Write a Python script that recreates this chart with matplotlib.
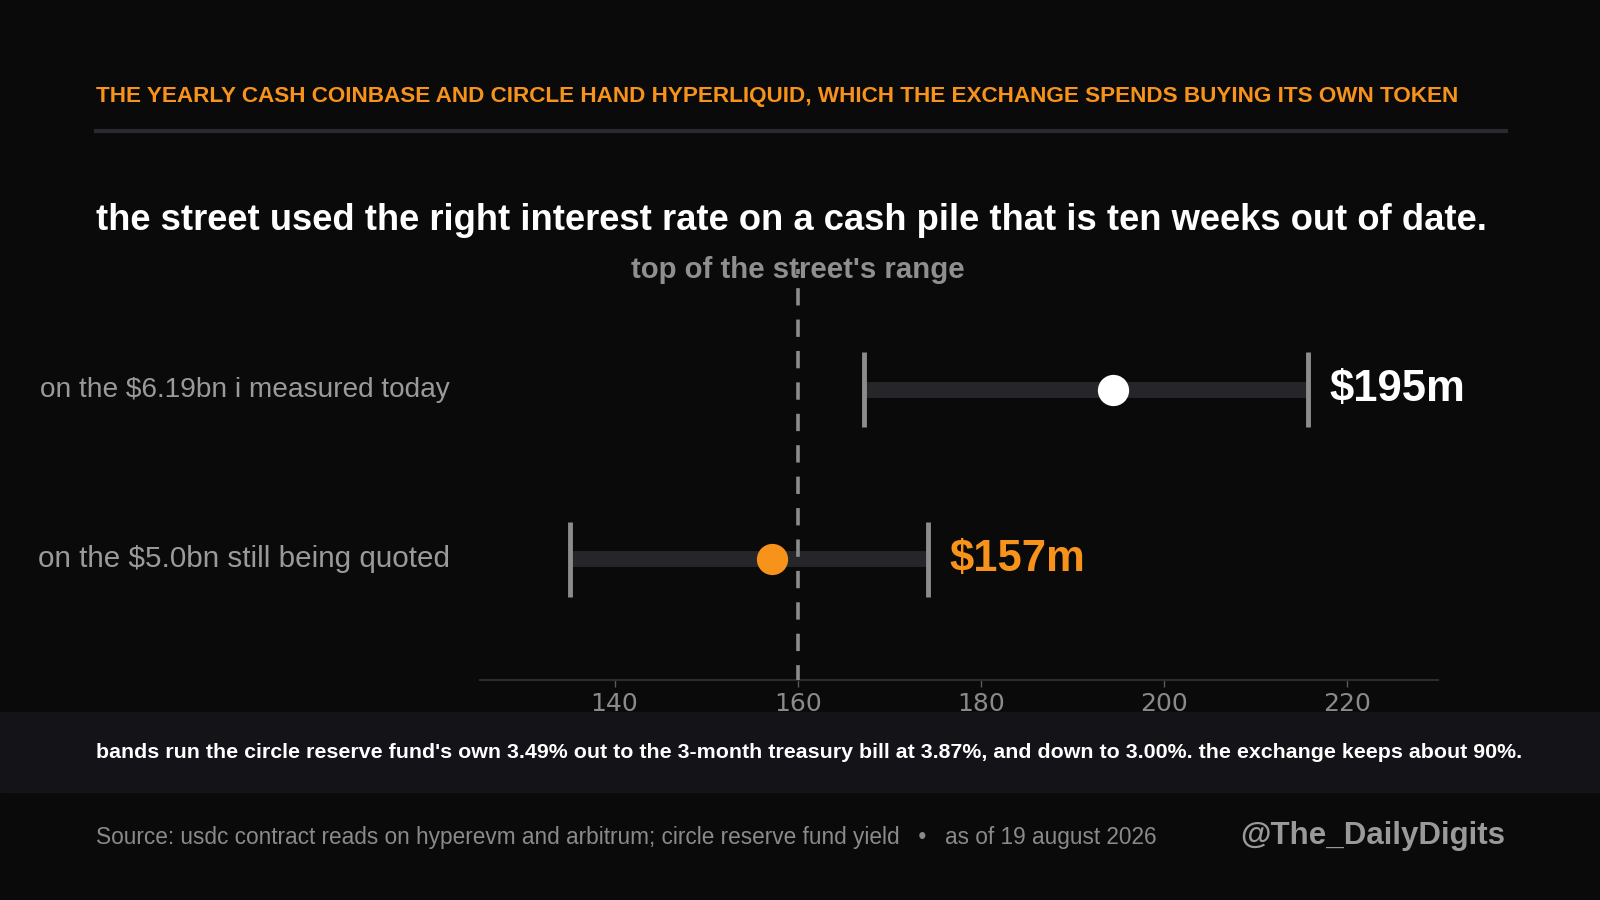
import matplotlib
matplotlib.use("Agg")
from matplotlib import pyplot as plt
from matplotlib.patches import Rectangle
from matplotlib.lines import Line2D

# data
rows = ["on the $6.19bn i measured today", "on the $5.0bn still being quoted"]
low = [167.2, 135.1]
high = [215.7, 174.2]
central = [194.5, 157.2]
value_labels = ["$195m", "$157m"]
street_top = 160
ticks = [140, 160, 180, 200, 220]

bg = "#0a0a0a"
orange = "#f7931a"
grey = "#8c8c8c"
dot_colors = ["#ffffff", orange]
row_sizes = [20.2, 21.3]

fig = plt.figure(figsize=(16, 9), dpi=100, facecolor=bg)
sans = "Liberation Sans"

fig.text(0.06, 0.8925, "THE YEARLY CASH COINBASE AND CIRCLE HAND HYPERLIQUID, WHICH THE EXCHANGE SPENDS BUYING ITS OWN TOKEN",
         color=orange, fontsize=16.18, family=sans, weight="bold", va="center", ha="left")
fig.add_artist(Line2D([0.06, 0.941], [0.854, 0.854], color="#2a2a2e", lw=3))
fig.text(0.06, 0.755, "the street used the right interest rate on a cash pile that is ten weeks out of date.",
         color="white", fontsize=26.2, family=sans, weight="bold", va="center", ha="left")

# bottom note band
fig.add_artist(Rectangle((0, 0.12), 1, 0.089, transform=fig.transFigure, color="#141418", zorder=0))
fig.text(0.06, 0.164, "bands run the circle reserve fund's own 3.49% out to the 3-month treasury bill at 3.87%, and down to 3.00%. the exchange keeps about 90%.",
         color="white", fontsize=15.4, family=sans, weight="bold", va="center", ha="left")

fig.text(0.06, 0.069, "Source: usdc contract reads on hyperevm and arbitrum; circle reserve fund yield   \u2022   as of 19 august 2026",
         color="#8a8a8a", fontsize=16.3, family=sans, va="center", ha="left")
fig.text(0.9405, 0.071, "@The_DailyDigits", color="#9a9a9a", fontsize=22.5, family=sans, weight="bold",
         va="center", ha="right")

ax = fig.add_axes([0.30, 0.2444, 0.599, 0.433], facecolor=bg)
ax.set_xlim(125.3, 230)
ax.set_ylim(-0.71, 1.585)
ypos = [1, 0]

for i, y in enumerate(ypos):
    ax.plot([low[i], high[i]], [y, y], color="#26262a", lw=11.5, solid_capstyle="butt", zorder=2)
    ax.plot([low[i], low[i]], [y - 0.22, y + 0.22], color=grey, lw=3.5, solid_capstyle="butt", zorder=3)
    ax.plot([high[i], high[i]], [y - 0.22, y + 0.22], color=grey, lw=3.5, solid_capstyle="butt", zorder=3)
    ax.plot(central[i], y, "o", color=dot_colors[i], ms=22.5, mec="none", zorder=5)
    ax.annotate(value_labels[i], (high[i], y), xytext=(16, 0), textcoords="offset points",
                color=dot_colors[i], fontsize=31.4, family=sans, weight="bold", va="center", ha="left")
    ax.annotate(rows[i], (0, y), xycoords=("figure fraction", "data"), xytext=(450, 0),
                textcoords="offset pixels", color="#9a9a9a", fontsize=row_sizes[i], family=sans,
                va="center", ha="right")

# dashed marker for the top of the street's range, running up past the plot top
ax.plot([street_top, street_top], [1.054, 0], transform=ax.get_xaxis_transform(), clip_on=False,
        color="#8c8c8c", lw=2.6, ls=(3.4, (4.8, 3.9)), zorder=4)
ax.annotate("top of the street's range", (street_top, 1), xycoords=("data", "axes fraction"),
            xytext=(0, 14.8), textcoords="offset points", color="#8f8f8f", fontsize=21.2,
            family=sans, weight="bold", ha="center", va="center", zorder=6)

for s in ["top", "right", "left"]:
    ax.spines[s].set_visible(False)
ax.spines["bottom"].set_color("#2c2c30")
ax.spines["bottom"].set_linewidth(1.5)
ax.set_yticks([])
ax.set_xticks(ticks)
ax.tick_params(axis="x", labelcolor="#8a8a8a", labelsize=18, length=5, width=1, pad=3.5, color="#5a5a5e")

fig.savefig("out.png", dpi=100, facecolor=bg)
